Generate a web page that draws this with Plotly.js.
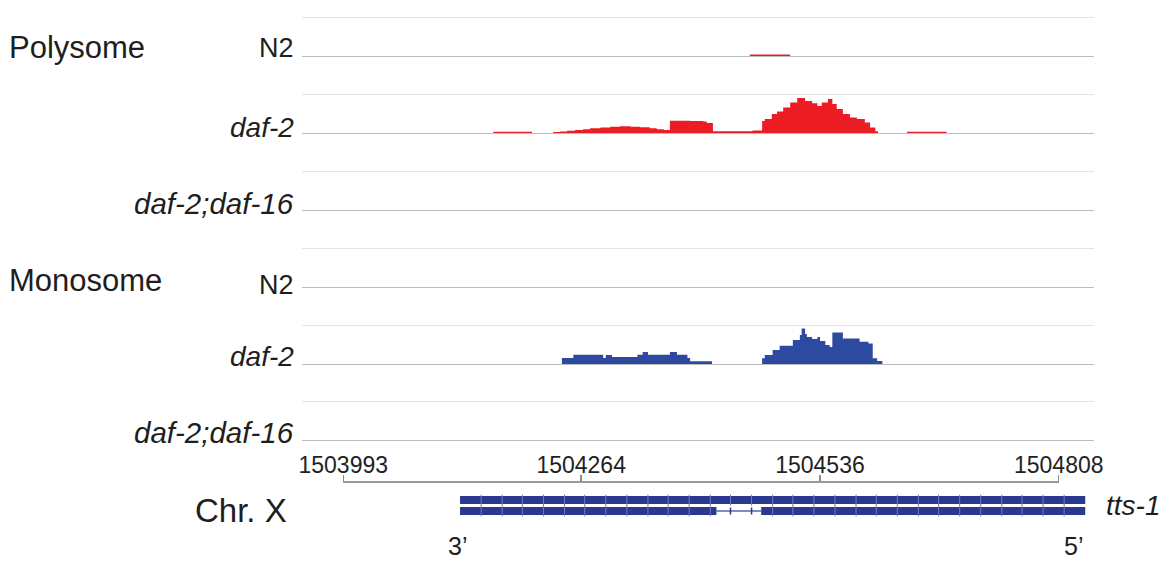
<!DOCTYPE html>
<html><head><meta charset="utf-8">
<script src="https://cdn.plot.ly/plotly-3.0.1.min.js"></script>
<style>html,body{margin:0;padding:0;background:#fff}#chart{width:1164px;height:562px}</style>
</head><body><div id="chart"></div>
<script>
// ---- data ----
const groupLabels = ['Polysome', 'Monosome'];
const trackLabels = ['N2', '<i>daf-2</i>', '<i>daf-2;daf-16</i>', 'N2', '<i>daf-2</i>', '<i>daf-2;daf-16</i>'];
const tickVals = [1503993, 1504264, 1504536, 1504808];
const tickText = ['1503993', '1504264', '1504536', '1504808'];

// Polysome N2 coverage (step positions, bp) and heights
const polyN2Pos = [1504456, 1504502];
const polyN2Val = [1.5, 0];
// Polysome daf-2 coverage
const polyDaf2Pos = [1504164, 1504208, 1504232, 1504240, 1504248, 1504257, 1504266, 1504274, 1504286, 1504297,
  1504308, 1504320, 1504331, 1504342, 1504350, 1504358, 1504365, 1504388, 1504403, 1504407,
  1504414, 1504459, 1504470, 1504473, 1504481, 1504487, 1504494, 1504502, 1504510, 1504519,
  1504527, 1504533, 1504538, 1504545, 1504550, 1504555, 1504562, 1504570, 1504578, 1504587,
  1504593, 1504599, 1504602, 1504635, 1504680];
const polyDaf2Val = [1.3, 0, 1.0, 1.5, 2.3, 3.0, 3.8, 4.8, 5.5, 6.2,
  6.7, 6.3, 5.8, 4.8, 3.8, 3.0, 12.3, 12.0, 11.5, 10.0,
  1.8, 2.5, 12, 14, 19, 21.6, 25.6, 30.6, 35, 32,
  29.7, 27, 30.6, 34, 29, 24, 19, 15.6, 14, 10.6,
  5.6, 1.7, 0, 1.3, 0];
// Monosome daf-2 coverage
const monoDaf2Pos = [1504242, 1504255, 1504289, 1504292, 1504299, 1504328, 1504334, 1504340, 1504365, 1504373,
  1504385, 1504388, 1504413, 1504470, 1504473, 1504482, 1504490, 1504505, 1504513, 1504515,
  1504519, 1504521, 1504527, 1504533, 1504536, 1504542, 1504547, 1504550, 1504562, 1504581,
  1504591, 1504596, 1504601, 1504607];
const monoDaf2Val = [6, 9.3, 6, 9, 7, 9.3, 12, 9.3, 12, 9.3,
  6, 2.7, 0, 5.7, 9, 14, 18.3, 24, 29, 35.6,
  30, 27, 25, 27, 23, 19, 17, 31.6, 25.6, 22.3,
  20.6, 5.7, 3, 0];

// gene model tts-1
const geneName = 'tts-1';
const geneStart = 1504126, geneEnd = 1504838;
const intronStart = 1504418, intronEnd = 1504469;
const strandMarks = [1504150, 1504174, 1504197, 1504221, 1504245, 1504268, 1504292, 1504316, 1504340, 1504363,
  1504387, 1504411, 1504434, 1504458, 1504482, 1504505, 1504529, 1504553, 1504577, 1504600,
  1504624, 1504648, 1504671, 1504695, 1504719, 1504743, 1504766, 1504790, 1504814];

// ---- layout helpers ----
const W = 1164, H = 562;
const FONT = 'Liberation Sans, Arial, Helvetica, sans-serif';
const px = p => p / W;
const py = p => 1 - p / H;
const baselines = [56, 133, 210, 287, 364, 440];
const RED = '#ec1c24', BLUE = '#2e4aa0', GENE = '#2a3890';

const xRange = [1503946, 1504848];

function cov(pos, val, n, color) {
  return {x: pos, y: val, xaxis: 'x', yaxis: 'y' + (n === 1 ? '' : n), type: 'scatter', mode: 'lines',
    line: {shape: 'hv', width: 0, color: color}, fill: 'tozeroy', fillcolor: color, hoverinfo: 'skip'};
}

const traces = [];
traces.push(cov(polyN2Pos, polyN2Val, 1, RED));
traces.push(cov(polyDaf2Pos, polyDaf2Val, 2, RED));
traces.push(cov([xRange[0]], [0], 3, RED));
traces.push(cov([xRange[0]], [0], 4, BLUE));
traces.push(cov(monoDaf2Pos, monoDaf2Val, 5, BLUE));
traces.push(cov([xRange[0]], [0], 6, BLUE));

// gene model
traces.push({x: [geneStart, geneEnd], y: [2, 2], xaxis: 'x', yaxis: 'y7', mode: 'lines',
  line: {width: 8, color: GENE}, hoverinfo: 'skip'});
traces.push({x: [intronStart, intronEnd], y: [1, 1], xaxis: 'x', yaxis: 'y7', mode: 'lines',
  line: {width: 1.5, color: '#5a64a8'}, hoverinfo: 'skip'});
traces.push({x: [geneStart, intronStart, null, intronEnd, geneEnd], y: [1, 1, null, 1, 1], xaxis: 'x', yaxis: 'y7', mode: 'lines',
  line: {width: 8, color: GENE}, hoverinfo: 'skip'});
traces.push({x: strandMarks, y: strandMarks.map(() => 2), xaxis: 'x', yaxis: 'y7', mode: 'markers',
  marker: {symbol: 'line-ns', size: 8, line: {width: 1, color: '#6f79bb'}}, hoverinfo: 'skip'});
const exonMarks = strandMarks.filter(v => v < intronStart || v > intronEnd);
const intronMarks = strandMarks.filter(v => v >= intronStart && v <= intronEnd);
traces.push({x: exonMarks, y: exonMarks.map(() => 1), xaxis: 'x', yaxis: 'y7', mode: 'markers',
  marker: {symbol: 'line-ns', size: 8, line: {width: 1, color: '#6f79bb'}}, hoverinfo: 'skip'});
traces.push({x: intronMarks, y: intronMarks.map(() => 1), xaxis: 'x', yaxis: 'y7', mode: 'markers',
  marker: {symbol: 'line-ns', size: 5, line: {width: 1.5, color: GENE}}, hoverinfo: 'skip'});
// ruler axis carrier
traces.push({x: [tickVals[0]], y: [null], xaxis: 'x2', yaxis: 'y7', mode: 'markers', hoverinfo: 'skip'});

const layout = {
  width: W, height: H, margin: {l: 0, r: 0, t: 0, b: 0},
  paper_bgcolor: '#fff', plot_bgcolor: 'rgba(0,0,0,0)', showlegend: false,
  font: {family: FONT, color: '#222'},
  xaxis: {domain: [px(302), px(1094)], range: xRange, showgrid: false, zeroline: false,
    showticklabels: false, ticks: '', showline: false, fixedrange: true, anchor: 'y'},
  xaxis2: {domain: [px(343), px(1059)], range: [tickVals[0] - 0.3, tickVals[3] + 0.3], anchor: 'free',
    position: py(481), side: 'top', tickvals: tickVals, ticktext: tickText, ticks: 'outside',
    ticklen: 6, tickwidth: 1.5, tickcolor: '#8c8c8c', showline: true, linecolor: '#9a9a9a', linewidth: 1.5,
    ticklabelstandoff: -7,
    showgrid: false, zeroline: false, tickfont: {size: 23, color: '#222', family: FONT}, fixedrange: true},
  yaxis7: {domain: [py(516.5), py(494.5)], range: [0.5, 2.5], visible: false, anchor: 'x', fixedrange: true},
  annotations: [],
};
baselines.forEach((b, i) => {
  layout['yaxis' + (i === 0 ? '' : i + 1)] = {
    domain: [py(b + 2), py(b - 41)], range: [-2, 41], anchor: 'x',
    tickvals: [39], showticklabels: false, ticks: '', showgrid: true, gridcolor: '#e4e4e4', gridwidth: 1,
    zeroline: true, zerolinecolor: '#bdbdbd', zerolinewidth: 1, showline: false, fixedrange: true
  };
});

function ann(text, x, y, size, xanchor) {
  layout.annotations.push({text: text, x: x, y: y, xref: 'paper', yref: 'paper', xanchor: xanchor,
    yanchor: 'middle', showarrow: false, font: {size: size, family: FONT, color: '#1e1e1e'}});
}
ann(groupLabels[0], px(7), py(47), 31, 'left');
ann(groupLabels[1], px(7), py(280), 31, 'left');
const labelY = [48, 127, 204, 285, 356, 432];
trackLabels.forEach((t, i) => ann(t, px(296), py(labelY[i]), i % 3 === 0 ? 27 : (i % 3 === 1 ? 28 : 29.5), 'right'));
ann('Chr. X', px(193), py(510), 33, 'left');
ann('<i>' + geneName + '</i>', px(1104), py(505), 28, 'left');
ann('3’', px(457), py(546), 25, 'center');
ann('5’', px(1073), py(546), 25, 'center');

Plotly.newPlot('chart', traces, layout, {staticPlot: true, displayModeBar: false});
</script></body></html>
